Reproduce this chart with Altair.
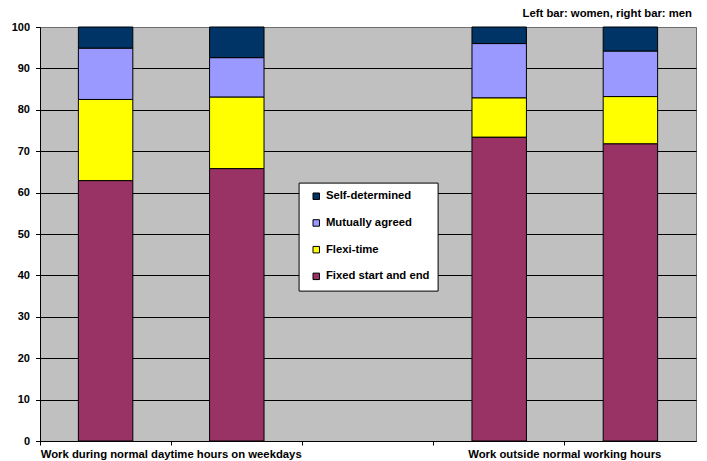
import json

import altair as alt
import pandas as pd

# Bars from left to right; a blank slot separates the two groups
bars = ["Women, normal hours", "Men, normal hours", "Women, outside hours", "Men, outside hours"]
slot_order = [bars[0], bars[1], "spacer", bars[2], bars[3]]

# Group captions, centred between the women's and the men's bar of each group
group_captions = {
    bars[1]: "Work during normal daytime hours on weekdays",
    bars[3]: "Work outside normal working hours",
}

# Working-time arrangements, stacked bottom to top (percent)
types = ["Fixed start and end", "Flexi-time", "Mutually agreed", "Self-determined"]
fixed = [62.9, 65.8, 73.4, 71.8]
flexi = [19.6, 17.3, 9.5, 11.4]
mutual = [12.4, 9.5, 13.1, 11.0]
self_det = [5.1, 7.4, 4.0, 5.8]
colors = ["#993366", "#FFFF00", "#9999FF", "#003366"]

note = "Left bar: women, right bar: men"

FONT = "Liberation Sans"
PLOT_W = 656
STEP = PLOT_W / len(slot_order)

rows = []
for rank, (t, series) in enumerate(zip(types, [fixed, flexi, mutual, self_det])):
    for b, v in zip(bars, series):
        rows.append({"slot": b, "type": t, "value": v, "rank": rank})
df = pd.DataFrame(rows)

label_expr = "".join(
    f"datum.value == {json.dumps(k)} ? {json.dumps(v)} : " for k, v in group_captions.items()
) + "''"

stack = (
    alt.Chart(df)
    .mark_bar(stroke="black", strokeWidth=1, width=alt.RelativeBandSize(0.415))
    .encode(
        x=alt.X(
            "slot:N",
            sort=slot_order,
            scale=alt.Scale(domain=slot_order, paddingInner=0, paddingOuter=0),
            axis=alt.Axis(
                title=None,
                bandPosition=0,
                labelExpr=label_expr,
                labelAngle=0,
                labelOverlap=False,
                labelLimit=400,
                labelAlign="center",
                labelBaseline="top",
                labelFontSize=11.3,
                labelPadding=3,
                labelOffset=-STEP / 2,
                tickSize=4,
                grid=False,
            ),
        ),
        y=alt.Y(
            "value:Q",
            stack="zero",
            scale=alt.Scale(domain=[0, 100], nice=False),
            axis=alt.Axis(
                title=None,
                values=list(range(0, 101, 10)),
                labelFontSize=11,
                labelPadding=6,
                tickSize=4.5,
                grid=True,
                gridColor=alt.condition("datum.value == 100", alt.value("#6e6e6e"), alt.value("#000000")),
                gridWidth=1,
            ),
        ),
        color=alt.Color(
            "type:N",
            scale=alt.Scale(domain=types[::-1], range=colors[::-1]),
            legend=alt.Legend(
                title=None,
                orient="none",
                legendX=258.6,
                legendY=155.6,
                fillColor="white",
                strokeColor="black",
                padding=8,
                rowPadding=14.7,
                symbolType="square",
                symbolSize=42,
                symbolStrokeColor="black",
                symbolStrokeWidth=1,
                symbolOffset=4,
                labelOffset=4,
                labelFont=FONT,
                labelFontSize=11.3,
                labelFontWeight="bold",
                labelColor="black",
                labelLimit=300,
            ),
        ),
        order=alt.Order("rank:Q", sort="ascending"),
    )
)

note_layer = (
    alt.Chart(pd.DataFrame({"note": [note]}))
    .mark_text(align="right", baseline="alphabetic", font=FONT, fontSize=11.3, fontWeight="bold", color="black")
    .encode(x=alt.value(652), y=alt.value(-9.7), text="note:N")
)

chart = (
    alt.layer(stack, note_layer)
    .properties(
        width=PLOT_W,
        height=414,
        autosize=alt.AutoSizeParams(type="none"),
        padding={"left": 40, "top": 27, "right": 11, "bottom": 20},
        background="white",
    )
    .configure_view(fill="#C0C0C0", stroke="#6e6e6e", strokeWidth=1)
    .configure_axis(
        labelFont=FONT,
        labelFontWeight="bold",
        labelColor="black",
        domainColor="black",
        domainWidth=1,
        tickColor="black",
        tickWidth=1,
    )
)

chart.save("out.html", embed_options={"renderer": "svg", "actions": False})
